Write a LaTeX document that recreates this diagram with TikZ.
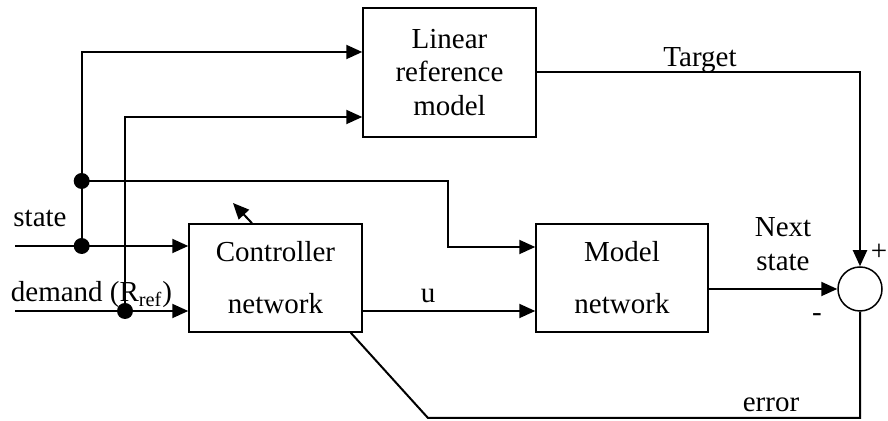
\documentclass[tikz,border=0pt]{standalone}
\usepackage{fontspec}
\setmainfont{Liberation Serif}
\usetikzlibrary{positioning,arrows.meta}

\begin{document}
\begin{tikzpicture}[
  x=0.5pt, y=0.5pt,
  font=\fontsize{14.5}{16.75}\selectfont,
  box/.style={draw, line width=0.75pt, minimum height=54pt, align=center},
  dot/.style={circle, fill, inner sep=0pt, minimum size=8pt},
  lbl/.style={anchor=base, inner sep=0pt},
  arr/.style={-{Triangle[length=8pt,width=7pt]}, line width=1pt},
  wire/.style={line width=1pt}
]
  \useasboundingbox (0,0) rectangle (888,421);

  \node[box, minimum width=86.5pt] (ctrl) at (275.5,143) {Controller\\[9.25pt]network};
  \node[box, minimum width=86pt] (model) at (622,143) {Model\\[9.25pt]network};
  \node[box, minimum width=86.5pt, minimum height=64.5pt] (linref) at (449.5,348.5)
    {Linear\\reference\\model};
  \node[draw, circle, line width=0.75pt, inner sep=0pt, minimum size=22pt] (sum) at (860,132) {};

  \node[dot] (d1) at (81.7,240) {};
  \node[dot] (d2) at (81.7,175) {};
  \node[dot] (d3) at (125,110) {};
  \coordinate (sin) at (15,175);
  \coordinate (din) at (15,110);
  \coordinate (bend) at (448,240);
  \coordinate (ecorner) at (428,3);
  \coordinate (adj) at (233,218);

  \draw[arr] (sin) -- (sin -| ctrl.west);
  \draw[arr] (din) -- (din -| ctrl.west);
  \draw[arr] (d2.center) |- ([yshift=10.25pt]linref.west);
  \draw[arr] (d3.center) |- ([yshift=-22.25pt]linref.west);
  \draw[arr] (d1.center) -- (bend) |- ([yshift=15.5pt]model.west);
  \draw[arr] ([yshift=-16.5pt]ctrl.east) -- ([yshift=-16.5pt]model.west);
  \draw[arr] ([yshift=-5.5pt]model.east) -- (sum.west);
  \draw[arr] (linref.east) -| (sum.north);
  \draw[wire] (sum.south) |- (ecorner) -- ([xshift=-6pt]ctrl.south east);
  \draw[arr] ([xshift=-11.75pt]ctrl.north) -- (adj);

  \node[lbl] (lstate) at (40,194) {state};
  \node[lbl] (ldemand) at (91.5,119) {demand (R\textsubscript{ref})};
  \node[lbl] (lu) at (428,118) {u};
  \node[lbl] (ltarget) at (700,354) {Target};
  \node[align=center, inner sep=0pt] (lnext) at (783,177) {Next\\state};
  \node[lbl] (lerror) at (771,9) {error};
  \node[inner sep=0pt] (lplus) at (879,169) {+};
  \node[inner sep=0pt] (lminus) at (817,103) {-};
\end{tikzpicture}
\end{document}
